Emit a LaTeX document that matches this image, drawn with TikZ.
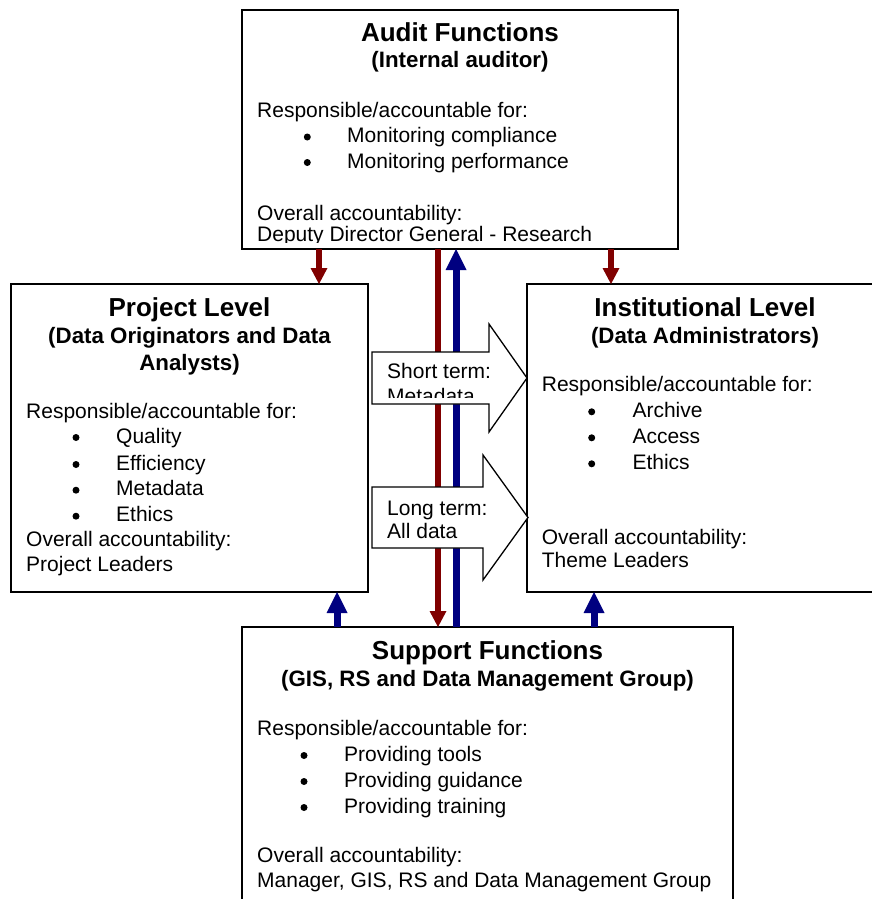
\documentclass[tikz,border=0pt]{standalone}
\usepackage{fontspec}
\setmainfont{Liberation Sans}
\usetikzlibrary{arrows.meta}
\definecolor{redc}{RGB}{128,0,0}
\definecolor{bluec}{RGB}{0,0,128}
\begin{document}
\begin{tikzpicture}[x=1pt,y=-1pt,
  box/.style={draw, line width=2pt, fill=white, rectangle, inner sep=0pt, outer sep=0pt},
  ttl/.style={font=\fontsize{26}{30}\selectfont\bfseries, anchor=base, inner sep=0pt},
  sub/.style={font=\fontsize{22.3}{26}\selectfont\bfseries, anchor=base, inner sep=0pt},
  txt/.style={font=\fontsize{21}{25}\selectfont, anchor=base west, inner sep=0pt},
  bul/.style={circle, fill=black, inner sep=0pt, minimum size=7pt, yshift=5.5pt},
  redarr/.style={draw=redc, line width=5.5pt, -{Triangle[width=17pt,length=16pt,line width=0pt]}},
  bluearr/.style={draw=bluec, line width=7pt, -{Triangle[width=21pt,length=21pt,line width=0pt]}},
  blk/.style={draw, line width=1.3pt, fill=white, line join=miter}]
\clip (0,0) rectangle (872,899);
\fill[white] (0,0) rectangle (872,899);

% boxes
\node[box, minimum width=436pt, minimum height=239pt] (audit) at (460,129.5) {};
\node[box, minimum width=357pt, minimum height=308pt] (proj) at (189.5,438) {};
\node[box, minimum width=356pt, minimum height=308pt] (inst) at (705,438) {};
\node[box, minimum width=491pt, minimum height=288pt] (supp) at (487.5,771) {};

% connector x positions
\coordinate (r1) at (319,0);
\coordinate (r2) at (611,0);
\coordinate (rl) at (438,0);
\coordinate (bl) at (456,0);
\coordinate (b1) at (337,0);
\coordinate (b2) at (594,0);

\draw[redarr] (audit.south -| r1) -- (proj.north -| r1);
\draw[redarr] (audit.south -| r2) -- (inst.north -| r2);
\draw[redarr] (audit.south -| rl) -- (supp.north -| rl);
\draw[bluearr] (supp.north -| bl) -- (audit.south -| bl);
\draw[bluearr] (supp.north -| b1) -- (proj.south -| b1);
\draw[bluearr] (supp.north -| b2) -- (inst.south -| b2);

% block arrows
\draw[blk] (372,352) -- (489,352) -- (489,324) -- (527,378) -- (489,432) -- (489,404) -- (372,404) -- cycle;
\draw[blk] (372,487) -- (483,487) -- (483,455) -- (528,517.5) -- (483,580) -- (483,548) -- (372,548) -- cycle;
\node[txt] (st1) at (387,378) {Short term:};
\begin{scope}
\clip (372,352) rectangle (489,397);
\node[txt] (st2) at (387,403) {Metadata};
\end{scope}
\node[txt] (lt1) at (387,515) {Long term:};
\node[txt] (lt2) at (387,538) {All data};

% Audit text
\begin{scope}
\clip (242,10) rectangle (678,242.5);
\node[ttl] (at) at (460,42) {Audit Functions};
\node[sub] (as) at (460,67) {(Internal auditor)};
\node[txt] (ar) at (257,117) {Responsible/accountable for:};
\node[bul] (ab1) at (307.3,142.5) {};
\node[txt] (ai1) at (347,142.5) {Monitoring compliance};
\node[bul] (ab2) at (307.3,168) {};
\node[txt] (ai2) at (347,168) {Monitoring performance};
\node[txt] (ao) at (257,220) {Overall accountability:};
\node[txt] (aw) at (257,241.5) {Deputy Director General - Research};
\end{scope}

% Project text
\node[ttl] (pt) at (189.5,316.7) {Project Level};
\node[sub] (ps1) at (189.5,343) {(Data Originators and Data};
\node[sub] (ps2) at (189.5,370) {Analysts)};
\node[txt] (pr) at (26,418) {Responsible/accountable for:};
\node[bul] (pb1) at (76,443) {};
\node[txt] (pi1) at (116,443) {Quality};
\node[bul] (pb2) at (76,470) {};
\node[txt] (pi2) at (116,470) {Efficiency};
\node[bul] (pb3) at (76,495.7) {};
\node[txt] (pi3) at (116,495.7) {Metadata};
\node[bul] (pb4) at (76,521.7) {};
\node[txt] (pi4) at (116,521.7) {Ethics};
\node[txt] (po) at (26,546.7) {Overall accountability:};
\node[txt] (pw) at (26,571) {Project Leaders};

% Institutional text
\node[ttl] (it) at (705,316.7) {Institutional Level};
\node[sub] (is) at (705,343) {(Data Administrators)};
\node[txt] (ir) at (541.7,391.7) {Responsible/accountable for:};
\node[bul] (ib1) at (591.7,417.3) {};
\node[txt] (ii1) at (632.3,417.3) {Archive};
\node[bul] (ib2) at (591.7,443.3) {};
\node[txt] (ii2) at (632.3,443.3) {Access};
\node[bul] (ib3) at (591.7,469.3) {};
\node[txt] (ii3) at (632.3,469.3) {Ethics};
\node[txt] (io) at (541.7,544.3) {Overall accountability:};
\node[txt] (iw) at (541.7,567.7) {Theme Leaders};

% Support text
\node[ttl] (sti) at (487.5,659) {Support Functions};
\node[sub] (ss) at (487.5,686) {(GIS, RS and Data Management Group)};
\node[txt] (sr) at (257,735) {Responsible/accountable for:};
\node[bul] (sb1) at (304,761) {};
\node[txt] (si1) at (344,761) {Providing tools};
\node[bul] (sb2) at (304,787) {};
\node[txt] (si2) at (344,787) {Providing guidance};
\node[bul] (sb3) at (304,813) {};
\node[txt] (si3) at (344,813) {Providing training};
\node[txt] (so) at (257,862) {Overall accountability:};
\node[txt] (sw) at (257,887) {Manager, GIS, RS and Data Management Group};
\end{tikzpicture}
\end{document}
